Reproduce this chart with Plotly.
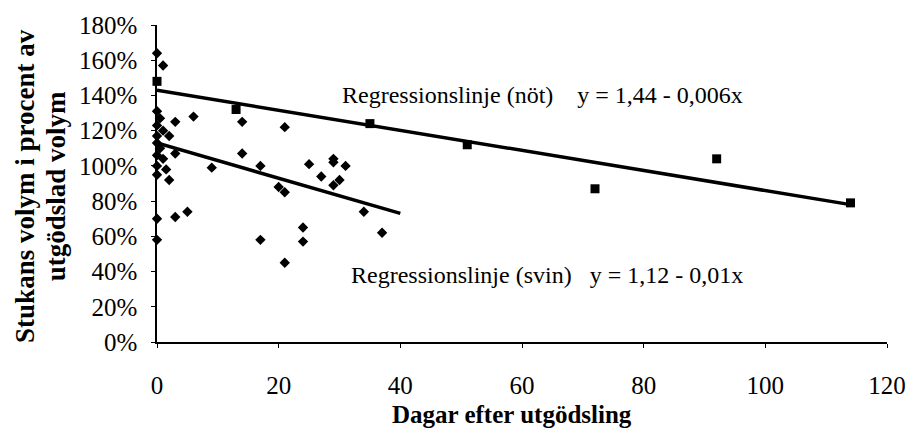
import plotly.graph_objects as go

# Svin (pigs) observations: days after manure removal, volume %
svin_days = [0, 1, 0, 0.5, 0, 1, 0, 2, 3, 6, 0, 0.5, 0, 1, 3, 0, 1.5, 0, 2, 9,
             14, 14, 17, 21, 20, 21, 25, 29, 29, 31, 27, 30, 29, 34, 37, 24, 24,
             17, 21, 5, 3, 0, 0]
svin_vals = [164, 157, 131, 127, 123, 120, 117, 117, 125, 128, 113, 110, 106, 104,
             107, 100, 98, 95, 92, 99, 125, 107, 100, 122, 88, 85, 101, 104, 102,
             100, 94, 92, 89, 74, 62, 65, 57, 58, 45, 74, 71, 70, 58]

# Nöt (cattle) observations
not_days = [0, 13, 35, 51, 72, 92, 114]
not_vals = [148, 132, 124, 112, 87, 104, 79]

# Regression line end points
reg_not_x = [0, 114]
reg_not_y = [143, 78]
reg_svin_x = [0, 40]
reg_svin_y = [113, 73]

x_ticks = [0, 20, 40, 60, 80, 100, 120]
y_ticks = [0, 20, 40, 60, 80, 100, 120, 140, 160, 180]
y_ticktext = [f"{v}%" for v in y_ticks]

label_not = "Regressionslinje (nöt)    y = 1,44 - 0,006x"
label_svin = "Regressionslinje (svin)   y = 1,12 - 0,01x"
x_title = "<b>Dagar efter utgödsling</b>"
y_title_1 = "<b>Stukans volym i procent av</b>"
y_title_2 = "<b>utgödslad volym</b>"

serif = "Liberation Serif, Times New Roman, serif"

fig = go.Figure()
fig.add_trace(go.Scatter(x=reg_not_x, y=reg_not_y, mode="lines",
                         line=dict(color="black", width=3.5), cliponaxis=False,
                         showlegend=False))
fig.add_trace(go.Scatter(x=reg_svin_x, y=reg_svin_y, mode="lines",
                         line=dict(color="black", width=3.5), cliponaxis=False,
                         showlegend=False))
fig.add_trace(go.Scatter(x=svin_days, y=svin_vals, mode="markers",
                         marker=dict(symbol="diamond", size=8, color="black"),
                         cliponaxis=False, showlegend=False))
fig.add_trace(go.Scatter(x=not_days, y=not_vals, mode="markers",
                         marker=dict(symbol="square", size=9, color="black"),
                         cliponaxis=False, showlegend=False))

fig.add_annotation(x=30, y=140, text=label_not, showarrow=False,
                   xanchor="left", yanchor="middle",
                   font=dict(family=serif, size=24, color="black"))
fig.add_annotation(x=31.5, y=38, text=label_svin, showarrow=False,
                   xanchor="left", yanchor="middle",
                   font=dict(family=serif, size=24, color="black"))

# axis titles as annotations (paper coordinates)
fig.add_annotation(xref="paper", yref="paper", x=0.486, y=-0.23, text=x_title,
                   showarrow=False, xanchor="center", yanchor="middle",
                   font=dict(family=serif, size=25, color="black"))
fig.add_annotation(xref="paper", yref="paper", x=-0.181, y=0.492, text=y_title_1,
                   showarrow=False, xanchor="center", yanchor="middle",
                   textangle=-90,
                   font=dict(family=serif, size=27, color="black"))
fig.add_annotation(xref="paper", yref="paper", x=-0.138, y=0.492, text=y_title_2,
                   showarrow=False, xanchor="center", yanchor="middle",
                   textangle=-90,
                   font=dict(family=serif, size=27, color="black"))

fig.update_layout(
    width=908, height=434,
    margin=dict(l=157, r=21, t=25, b=92),
    paper_bgcolor="white", plot_bgcolor="white",
    font=dict(family=serif, color="black"),
    xaxis=dict(range=[0, 120], tickvals=x_ticks, showgrid=False, zeroline=False,
               showline=True, linecolor="black", linewidth=1.5,
               ticks="outside", ticklen=4, tickcolor="black",
               tickfont=dict(family=serif, size=25, color="black"),
               ticklabelstandoff=16, automargin=False),
    yaxis=dict(range=[0, 180], tickvals=y_ticks, ticktext=y_ticktext,
               showgrid=False, zeroline=False, showline=True,
               linecolor="black", linewidth=1.5,
               ticks="outside", ticklen=4, tickcolor="black",
               tickfont=dict(family=serif, size=25, color="black"),
               ticklabelstandoff=9, automargin=False),
)

fig.write_html("out.html", config={"displayModeBar": False},
               post_script="document.body.style.margin='0px';")
